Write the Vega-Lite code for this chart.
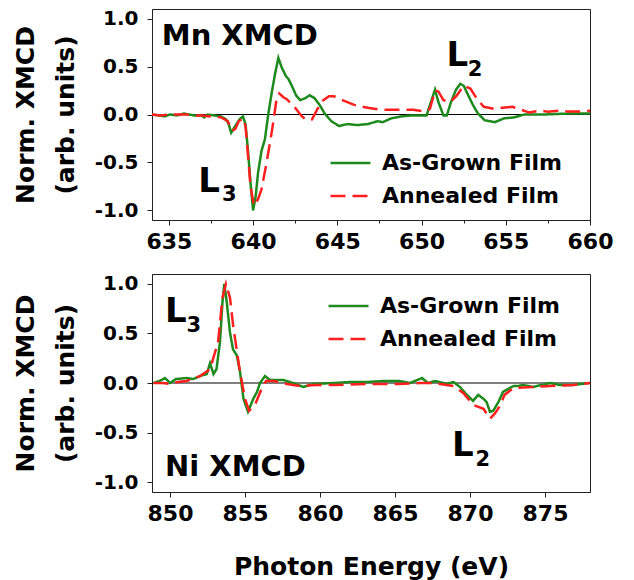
{
  "$schema": "https://vega.github.io/schema/vega-lite/v6.json",
  "background": "white",
  "padding": {"left": 12, "top": 8, "right": 5, "bottom": 0},
  "spacing": 54,
  "bounds": "flush",
  "config": {
    "font": "DejaVu Sans",
    "view": {"stroke": "#222", "strokeWidth": 1},
    "axis": {
      "grid": false,
      "domainColor": "#222",
      "tickColor": "#222",
      "labelFont": "DejaVu Sans",
      "labelFontWeight": "bold",
      "labelFontSize": 20,
      "labelColor": "black",
      "titleFont": "DejaVu Sans",
      "titleFontWeight": "bold",
      "titleFontSize": 25,
      "titleColor": "black",
      "tickSize": 5,
      "labelOverlap": false,
      "labelBound": false,
      "labelFlush": false
    },
    "legend": {
      "labelFont": "DejaVu Sans",
      "labelFontWeight": "bold",
      "labelFontSize": 22,
      "labelColor": "black",
      "labelLimit": 400
    }
  },
  "resolve": {
    "scale": {"color": "independent", "strokeDash": "independent", "x": "independent", "y": "independent"},
    "legend": {"color": "independent", "strokeDash": "independent"}
  },
  "vconcat": [
    {
      "width": 438,
      "height": 211,
      "layer": [
        {
          "data": {"values": [{"v": 0}]},
          "mark": {"type": "rule", "color": "black", "strokeWidth": 1.2},
          "encoding": {"y": {"field": "v", "type": "quantitative", "scale": {"domain": [-1.1, 1.1], "nice": false, "zero": false}}}
        },
        {
          "data": {"values": [
            {"series": "As-Grown Film", "E": 634.0, "v": 0},
            {"series": "As-Grown Film", "E": 634.4, "v": -0.01},
            {"series": "As-Grown Film", "E": 634.75, "v": -0.02},
            {"series": "As-Grown Film", "E": 635.05, "v": 0.0},
            {"series": "As-Grown Film", "E": 635.5, "v": -0.01},
            {"series": "As-Grown Film", "E": 635.9, "v": 0.01},
            {"series": "As-Grown Film", "E": 636.2, "v": 0.0},
            {"series": "As-Grown Film", "E": 636.5, "v": -0.01},
            {"series": "As-Grown Film", "E": 636.9, "v": -0.01},
            {"series": "As-Grown Film", "E": 637.1, "v": -0.03},
            {"series": "As-Grown Film", "E": 637.3, "v": 0.0},
            {"series": "As-Grown Film", "E": 637.7, "v": -0.01},
            {"series": "As-Grown Film", "E": 638.1, "v": -0.02},
            {"series": "As-Grown Film", "E": 638.4, "v": -0.05},
            {"series": "As-Grown Film", "E": 638.55, "v": -0.1},
            {"series": "As-Grown Film", "E": 638.7, "v": -0.19},
            {"series": "As-Grown Film", "E": 638.9, "v": -0.13},
            {"series": "As-Grown Film", "E": 639.2, "v": -0.05},
            {"series": "As-Grown Film", "E": 639.4, "v": -0.02},
            {"series": "As-Grown Film", "E": 639.55, "v": -0.1},
            {"series": "As-Grown Film", "E": 639.7, "v": -0.38},
            {"series": "As-Grown Film", "E": 639.85, "v": -0.72},
            {"series": "As-Grown Film", "E": 640.0, "v": -1.0},
            {"series": "As-Grown Film", "E": 640.15, "v": -0.86},
            {"series": "As-Grown Film", "E": 640.3, "v": -0.6},
            {"series": "As-Grown Film", "E": 640.5, "v": -0.38},
            {"series": "As-Grown Film", "E": 640.7, "v": -0.26},
            {"series": "As-Grown Film", "E": 640.9, "v": 0.0},
            {"series": "As-Grown Film", "E": 641.1, "v": 0.22},
            {"series": "As-Grown Film", "E": 641.3, "v": 0.42},
            {"series": "As-Grown Film", "E": 641.5, "v": 0.59},
            {"series": "As-Grown Film", "E": 641.7, "v": 0.49},
            {"series": "As-Grown Film", "E": 641.95, "v": 0.4},
            {"series": "As-Grown Film", "E": 642.1, "v": 0.37},
            {"series": "As-Grown Film", "E": 642.3, "v": 0.3},
            {"series": "As-Grown Film", "E": 642.55, "v": 0.2},
            {"series": "As-Grown Film", "E": 642.8, "v": 0.15},
            {"series": "As-Grown Film", "E": 643.1, "v": 0.17},
            {"series": "As-Grown Film", "E": 643.35, "v": 0.2},
            {"series": "As-Grown Film", "E": 643.65, "v": 0.17},
            {"series": "As-Grown Film", "E": 643.95, "v": 0.1},
            {"series": "As-Grown Film", "E": 644.25, "v": 0.01},
            {"series": "As-Grown Film", "E": 644.65, "v": -0.07},
            {"series": "As-Grown Film", "E": 645.1, "v": -0.12},
            {"series": "As-Grown Film", "E": 645.6, "v": -0.1},
            {"series": "As-Grown Film", "E": 646.2, "v": -0.11},
            {"series": "As-Grown Film", "E": 646.8, "v": -0.1},
            {"series": "As-Grown Film", "E": 647.4, "v": -0.07},
            {"series": "As-Grown Film", "E": 647.7, "v": -0.08},
            {"series": "As-Grown Film", "E": 648.2, "v": -0.04},
            {"series": "As-Grown Film", "E": 648.8, "v": -0.02},
            {"series": "As-Grown Film", "E": 649.4, "v": -0.01},
            {"series": "As-Grown Film", "E": 650.0, "v": -0.01},
            {"series": "As-Grown Film", "E": 650.3, "v": -0.01},
            {"series": "As-Grown Film", "E": 650.5, "v": 0.1},
            {"series": "As-Grown Film", "E": 650.8, "v": 0.26},
            {"series": "As-Grown Film", "E": 651.0, "v": 0.13},
            {"series": "As-Grown Film", "E": 651.3, "v": -0.01},
            {"series": "As-Grown Film", "E": 651.5, "v": -0.01},
            {"series": "As-Grown Film", "E": 651.75, "v": 0.13},
            {"series": "As-Grown Film", "E": 652.05, "v": 0.26},
            {"series": "As-Grown Film", "E": 652.3, "v": 0.32},
            {"series": "As-Grown Film", "E": 652.5, "v": 0.3},
            {"series": "As-Grown Film", "E": 652.8, "v": 0.19},
            {"series": "As-Grown Film", "E": 653.05, "v": 0.1},
            {"series": "As-Grown Film", "E": 653.35, "v": 0.01},
            {"series": "As-Grown Film", "E": 653.75, "v": -0.06},
            {"series": "As-Grown Film", "E": 654.35, "v": -0.08},
            {"series": "As-Grown Film", "E": 654.9, "v": -0.04},
            {"series": "As-Grown Film", "E": 655.5, "v": -0.03},
            {"series": "As-Grown Film", "E": 656.1, "v": 0.0},
            {"series": "As-Grown Film", "E": 657.3, "v": 0.0},
            {"series": "As-Grown Film", "E": 658.7, "v": 0.01},
            {"series": "As-Grown Film", "E": 660.0, "v": 0.01},
            {"series": "Annealed Film", "E": 634.0, "v": 0},
            {"series": "Annealed Film", "E": 634.5, "v": -0.01},
            {"series": "Annealed Film", "E": 635.0, "v": 0.0},
            {"series": "Annealed Film", "E": 635.5, "v": 0.0},
            {"series": "Annealed Film", "E": 636.0, "v": 0.0},
            {"series": "Annealed Film", "E": 636.5, "v": -0.01},
            {"series": "Annealed Film", "E": 637.0, "v": -0.01},
            {"series": "Annealed Film", "E": 637.5, "v": -0.02},
            {"series": "Annealed Film", "E": 638.1, "v": -0.03},
            {"series": "Annealed Film", "E": 638.5, "v": -0.07},
            {"series": "Annealed Film", "E": 638.75, "v": -0.17},
            {"series": "Annealed Film", "E": 638.95, "v": -0.15},
            {"series": "Annealed Film", "E": 639.15, "v": -0.07},
            {"series": "Annealed Film", "E": 639.4, "v": -0.04},
            {"series": "Annealed Film", "E": 639.55, "v": -0.12},
            {"series": "Annealed Film", "E": 639.7, "v": -0.43},
            {"series": "Annealed Film", "E": 639.85, "v": -0.75},
            {"series": "Annealed Film", "E": 640.05, "v": -0.95},
            {"series": "Annealed Film", "E": 640.3, "v": -0.88},
            {"series": "Annealed Film", "E": 640.5, "v": -0.78},
            {"series": "Annealed Film", "E": 640.75, "v": -0.55},
            {"series": "Annealed Film", "E": 641.0, "v": -0.3},
            {"series": "Annealed Film", "E": 641.2, "v": -0.08},
            {"series": "Annealed Film", "E": 641.4, "v": 0.17},
            {"series": "Annealed Film", "E": 641.55, "v": 0.22},
            {"series": "Annealed Film", "E": 641.8, "v": 0.18},
            {"series": "Annealed Film", "E": 642.0, "v": 0.16},
            {"series": "Annealed Film", "E": 642.45, "v": 0.08},
            {"series": "Annealed Film", "E": 642.9, "v": -0.02},
            {"series": "Annealed Film", "E": 643.2, "v": -0.06},
            {"series": "Annealed Film", "E": 643.5, "v": -0.05},
            {"series": "Annealed Film", "E": 643.8, "v": 0.05},
            {"series": "Annealed Film", "E": 644.1, "v": 0.14},
            {"series": "Annealed Film", "E": 644.5, "v": 0.19},
            {"series": "Annealed Film", "E": 644.8, "v": 0.19},
            {"series": "Annealed Film", "E": 645.3, "v": 0.15},
            {"series": "Annealed Film", "E": 646.0, "v": 0.1},
            {"series": "Annealed Film", "E": 646.8, "v": 0.07},
            {"series": "Annealed Film", "E": 647.6, "v": 0.05},
            {"series": "Annealed Film", "E": 648.5, "v": 0.05},
            {"series": "Annealed Film", "E": 649.5, "v": 0.05},
            {"series": "Annealed Film", "E": 650.2, "v": 0.03},
            {"series": "Annealed Film", "E": 650.5, "v": 0.06},
            {"series": "Annealed Film", "E": 650.8, "v": 0.25},
            {"series": "Annealed Film", "E": 651.0, "v": 0.24},
            {"series": "Annealed Film", "E": 651.3, "v": 0.15},
            {"series": "Annealed Film", "E": 651.7, "v": 0.13},
            {"series": "Annealed Film", "E": 652.1, "v": 0.2},
            {"series": "Annealed Film", "E": 652.5, "v": 0.3},
            {"series": "Annealed Film", "E": 652.9, "v": 0.27},
            {"series": "Annealed Film", "E": 653.3, "v": 0.16},
            {"series": "Annealed Film", "E": 653.7, "v": 0.08},
            {"series": "Annealed Film", "E": 654.3, "v": 0.06},
            {"series": "Annealed Film", "E": 654.8, "v": 0.07},
            {"series": "Annealed Film", "E": 655.4, "v": 0.08},
            {"series": "Annealed Film", "E": 655.9, "v": 0.05},
            {"series": "Annealed Film", "E": 656.4, "v": 0.02},
            {"series": "Annealed Film", "E": 657.0, "v": 0.04},
            {"series": "Annealed Film", "E": 657.5, "v": 0.03},
            {"series": "Annealed Film", "E": 658.2, "v": 0.04},
            {"series": "Annealed Film", "E": 658.7, "v": 0.03},
            {"series": "Annealed Film", "E": 659.5, "v": 0.03},
            {"series": "Annealed Film", "E": 660.0, "v": 0.04}
          ]},
          "mark": {"type": "line", "strokeWidth": 2.5},
          "encoding": {
            "x": {"field": "E", "type": "quantitative", "scale": {"domain": [634, 660], "nice": false, "zero": false},
              "axis": {"title": null, "values": [635, 637.5, 640, 642.5, 645, 647.5, 650, 652.5, 655, 657.5, 660],
                "labelExpr": "datum.value % 5 === 0 ? format(datum.value, 'd') : ''",
                "tickSize": {"condition": {"test": "datum.value % 5 !== 0", "value": 3}, "value": 5},
                "labelFontSize": 22, "labelPadding": 6}},
            "y": {"field": "v", "type": "quantitative", "scale": {"domain": [-1.1, 1.1], "nice": false, "zero": false},
              "axis": {"title": ["Norm. XMCD", "(arb. units)"], "titleLineHeight": 40, "titlePadding": 16,
                "values": [-1, -0.75, -0.5, -0.25, 0, 0.25, 0.5, 0.75, 1],
                "labelExpr": "datum.value % 0.5 === 0 ? replace(format(datum.value, '.1f'), '\u2212', '-') : ''",
                "tickSize": {"condition": {"test": "datum.value % 0.5 !== 0", "value": 3}, "value": 5},
                "labelPadding": 9}},
            "color": {"field": "series", "type": "nominal", "sort": null,
              "scale": {"domain": ["As-Grown Film", "Annealed Film"], "range": ["#1e8a1e", "#ff1f1f"]},
              "legend": {"orient": "none", "legendX": 177, "legendY": 143, "title": null, "symbolType": "stroke", "symbolSize": 1600, "symbolStrokeWidth": 2.5, "clipHeight": 22, "rowPadding": 11, "labelOffset": 10}},
            "strokeDash": {"field": "series", "type": "nominal", "sort": null,
              "scale": {"domain": ["As-Grown Film", "Annealed Film"], "range": [[1, 0], [15, 7]]},
              "legend": {"orient": "none", "legendX": 177, "legendY": 143, "title": null, "symbolType": "stroke", "symbolSize": 1600, "symbolStrokeWidth": 2.5, "clipHeight": 22, "rowPadding": 11, "labelOffset": 10}}
          }
        },
        {
          "data": {"values": [{"t": "Mn XMCD", "E": 634.58, "v": 0.725}]},
          "mark": {"type": "text", "align": "left", "baseline": "alphabetic", "fontSize": 29, "fontWeight": "bold", "font": "DejaVu Sans", "color": "black"},
          "encoding": {"x": {"field": "E", "type": "quantitative"}, "y": {"field": "v", "type": "quantitative"}, "text": {"field": "t"}}
        },
        {
          "data": {"values": [{"t": "L", "E": 636.75, "v": -0.804}, {"t": "L", "E": 651.48, "v": 0.505}]},
          "mark": {"type": "text", "align": "left", "baseline": "alphabetic", "fontSize": 34, "fontWeight": "bold", "font": "DejaVu Sans", "color": "black"},
          "encoding": {"x": {"field": "E", "type": "quantitative"}, "y": {"field": "v", "type": "quantitative"}, "text": {"field": "t"}}
        },
        {
          "data": {"values": [{"t": "3", "E": 638.15, "v": -0.898}, {"t": "2", "E": 652.75, "v": 0.4}]},
          "mark": {"type": "text", "align": "left", "baseline": "alphabetic", "fontSize": 21, "fontWeight": "bold", "font": "DejaVu Sans", "color": "black"},
          "encoding": {"x": {"field": "E", "type": "quantitative"}, "y": {"field": "v", "type": "quantitative"}, "text": {"field": "t"}}
        }
      ]
    },
    {
      "width": 438,
      "height": 218,
      "layer": [
        {
          "data": {"values": [{"v": 0}]},
          "mark": {"type": "rule", "color": "black", "strokeWidth": 1.2},
          "encoding": {"y": {"field": "v", "type": "quantitative", "scale": {"domain": [-1.1, 1.1], "nice": false, "zero": false}}}
        },
        {
          "data": {"values": [
            {"series": "As-Grown Film", "E": 848.9, "v": 0.0},
            {"series": "As-Grown Film", "E": 849.3, "v": 0.02},
            {"series": "As-Grown Film", "E": 849.67, "v": 0.05},
            {"series": "As-Grown Film", "E": 850.0, "v": 0.0},
            {"series": "As-Grown Film", "E": 850.4, "v": 0.04},
            {"series": "As-Grown Film", "E": 851.1, "v": 0.05},
            {"series": "As-Grown Film", "E": 851.55, "v": 0.04},
            {"series": "As-Grown Film", "E": 852.0, "v": 0.07},
            {"series": "As-Grown Film", "E": 852.45, "v": 0.09},
            {"series": "As-Grown Film", "E": 852.67, "v": 0.2},
            {"series": "As-Grown Film", "E": 852.9, "v": 0.09},
            {"series": "As-Grown Film", "E": 853.1, "v": 0.14},
            {"series": "As-Grown Film", "E": 853.33, "v": 0.41},
            {"series": "As-Grown Film", "E": 853.5, "v": 0.82},
            {"series": "As-Grown Film", "E": 853.62, "v": 1.0},
            {"series": "As-Grown Film", "E": 853.78, "v": 0.82},
            {"series": "As-Grown Film", "E": 854.0, "v": 0.51},
            {"series": "As-Grown Film", "E": 854.2, "v": 0.34},
            {"series": "As-Grown Film", "E": 854.45, "v": 0.28},
            {"series": "As-Grown Film", "E": 854.67, "v": 0.11},
            {"series": "As-Grown Film", "E": 854.9, "v": -0.16},
            {"series": "As-Grown Film", "E": 855.2, "v": -0.29},
            {"series": "As-Grown Film", "E": 855.55, "v": -0.16},
            {"series": "As-Grown Film", "E": 855.8, "v": -0.09},
            {"series": "As-Grown Film", "E": 856.0, "v": 0.0},
            {"series": "As-Grown Film", "E": 856.33, "v": 0.07},
            {"series": "As-Grown Film", "E": 856.67, "v": 0.03},
            {"series": "As-Grown Film", "E": 857.1, "v": 0.03},
            {"series": "As-Grown Film", "E": 857.55, "v": 0.03},
            {"series": "As-Grown Film", "E": 858.2, "v": 0.0},
            {"series": "As-Grown Film", "E": 858.9, "v": -0.04},
            {"series": "As-Grown Film", "E": 859.55, "v": -0.01},
            {"series": "As-Grown Film", "E": 860.9, "v": 0.0},
            {"series": "As-Grown Film", "E": 862.0, "v": 0.01},
            {"series": "As-Grown Film", "E": 863.1, "v": 0.01},
            {"series": "As-Grown Film", "E": 864.2, "v": 0.02},
            {"series": "As-Grown Film", "E": 865.3, "v": 0.02},
            {"series": "As-Grown Film", "E": 866.0, "v": 0.0},
            {"series": "As-Grown Film", "E": 866.8, "v": 0.05},
            {"series": "As-Grown Film", "E": 867.2, "v": 0.0},
            {"series": "As-Grown Film", "E": 867.7, "v": 0.02},
            {"series": "As-Grown Film", "E": 868.45, "v": -0.01},
            {"series": "As-Grown Film", "E": 868.9, "v": 0.01},
            {"series": "As-Grown Film", "E": 869.33, "v": -0.04},
            {"series": "As-Grown Film", "E": 869.8, "v": -0.12},
            {"series": "As-Grown Film", "E": 870.2, "v": -0.18},
            {"series": "As-Grown Film", "E": 870.55, "v": -0.12},
            {"series": "As-Grown Film", "E": 870.9, "v": -0.16},
            {"series": "As-Grown Film", "E": 871.1, "v": -0.19},
            {"series": "As-Grown Film", "E": 871.33, "v": -0.29},
            {"series": "As-Grown Film", "E": 871.55, "v": -0.28},
            {"series": "As-Grown Film", "E": 871.9, "v": -0.19},
            {"series": "As-Grown Film", "E": 872.2, "v": -0.09},
            {"series": "As-Grown Film", "E": 872.55, "v": -0.06},
            {"series": "As-Grown Film", "E": 872.9, "v": -0.03},
            {"series": "As-Grown Film", "E": 873.2, "v": -0.03},
            {"series": "As-Grown Film", "E": 873.55, "v": -0.02},
            {"series": "As-Grown Film", "E": 874.2, "v": -0.04},
            {"series": "As-Grown Film", "E": 875.33, "v": 0.0},
            {"series": "As-Grown Film", "E": 876.0, "v": -0.02},
            {"series": "As-Grown Film", "E": 876.9, "v": -0.02},
            {"series": "As-Grown Film", "E": 877.95, "v": 0.0},
            {"series": "Annealed Film", "E": 848.9, "v": 0.0},
            {"series": "Annealed Film", "E": 849.5, "v": 0.0},
            {"series": "Annealed Film", "E": 850.0, "v": -0.01},
            {"series": "Annealed Film", "E": 850.5, "v": 0.01},
            {"series": "Annealed Film", "E": 851.1, "v": 0.02},
            {"series": "Annealed Film", "E": 852.0, "v": 0.07},
            {"series": "Annealed Film", "E": 852.67, "v": 0.14},
            {"series": "Annealed Film", "E": 853.2, "v": 0.41},
            {"series": "Annealed Film", "E": 853.5, "v": 0.86},
            {"series": "Annealed Film", "E": 853.73, "v": 1.0},
            {"series": "Annealed Film", "E": 854.0, "v": 0.86},
            {"series": "Annealed Film", "E": 854.2, "v": 0.59},
            {"series": "Annealed Film", "E": 854.45, "v": 0.33},
            {"series": "Annealed Film", "E": 854.67, "v": 0.11},
            {"series": "Annealed Film", "E": 855.0, "v": -0.16},
            {"series": "Annealed Film", "E": 855.27, "v": -0.28},
            {"series": "Annealed Film", "E": 855.67, "v": -0.22},
            {"series": "Annealed Film", "E": 856.1, "v": -0.06},
            {"series": "Annealed Film", "E": 856.4, "v": 0.02},
            {"series": "Annealed Film", "E": 856.9, "v": 0.02},
            {"series": "Annealed Film", "E": 857.8, "v": -0.01},
            {"series": "Annealed Film", "E": 858.67, "v": -0.03},
            {"series": "Annealed Film", "E": 859.8, "v": -0.02},
            {"series": "Annealed Film", "E": 860.9, "v": -0.02},
            {"series": "Annealed Film", "E": 863.1, "v": -0.01},
            {"series": "Annealed Film", "E": 865.3, "v": -0.01},
            {"series": "Annealed Film", "E": 866.67, "v": 0.0},
            {"series": "Annealed Film", "E": 867.5, "v": 0.0},
            {"series": "Annealed Film", "E": 868.9, "v": -0.03},
            {"series": "Annealed Film", "E": 869.55, "v": -0.1},
            {"series": "Annealed Film", "E": 870.2, "v": -0.22},
            {"series": "Annealed Film", "E": 870.9, "v": -0.26},
            {"series": "Annealed Film", "E": 871.33, "v": -0.36},
            {"series": "Annealed Film", "E": 871.65, "v": -0.31},
            {"series": "Annealed Film", "E": 872.0, "v": -0.23},
            {"series": "Annealed Film", "E": 872.3, "v": -0.12},
            {"series": "Annealed Film", "E": 872.9, "v": -0.05},
            {"series": "Annealed Film", "E": 874.2, "v": -0.04},
            {"series": "Annealed Film", "E": 875.33, "v": -0.03},
            {"series": "Annealed Film", "E": 876.9, "v": -0.02},
            {"series": "Annealed Film", "E": 878.0, "v": 0.0}
          ]},
          "mark": {"type": "line", "strokeWidth": 2.5},
          "encoding": {
            "x": {"field": "E", "type": "quantitative", "scale": {"domain": [848.8, 878], "nice": false, "zero": false},
              "axis": {"title": "Photon Energy (eV)", "titlePadding": 30, "values": [850, 852.5, 855, 857.5, 860, 862.5, 865, 867.5, 870, 872.5, 875, 877.5],
                "labelExpr": "datum.value % 5 === 0 ? format(datum.value, 'd') : ''",
                "tickSize": {"condition": {"test": "datum.value % 5 !== 0", "value": 3}, "value": 5},
                "labelFontSize": 22, "labelPadding": 6}},
            "y": {"field": "v", "type": "quantitative", "scale": {"domain": [-1.1, 1.1], "nice": false, "zero": false},
              "axis": {"title": ["Norm. XMCD", "(arb. units)"], "titleLineHeight": 40, "titlePadding": 16,
                "values": [-1, -0.75, -0.5, -0.25, 0, 0.25, 0.5, 0.75, 1],
                "labelExpr": "datum.value % 0.5 === 0 ? replace(format(datum.value, '.1f'), '\u2212', '-') : ''",
                "tickSize": {"condition": {"test": "datum.value % 0.5 !== 0", "value": 3}, "value": 5},
                "labelPadding": 9}},
            "color": {"field": "series", "type": "nominal", "sort": null,
              "scale": {"domain": ["As-Grown Film", "Annealed Film"], "range": ["#1e8a1e", "#ff1f1f"]},
              "legend": {"orient": "none", "legendX": 175, "legendY": 21, "title": null, "symbolType": "stroke", "symbolSize": 1600, "symbolStrokeWidth": 2.5, "clipHeight": 22, "rowPadding": 11, "labelOffset": 10}},
            "strokeDash": {"field": "series", "type": "nominal", "sort": null,
              "scale": {"domain": ["As-Grown Film", "Annealed Film"], "range": [[1, 0], [15, 7]]},
              "legend": {"orient": "none", "legendX": 175, "legendY": 21, "title": null, "symbolType": "stroke", "symbolSize": 1600, "symbolStrokeWidth": 2.5, "clipHeight": 22, "rowPadding": 11, "labelOffset": 10}}
          }
        },
        {
          "data": {"values": [{"t": "Ni XMCD", "E": 849.67, "v": -0.94}]},
          "mark": {"type": "text", "align": "left", "baseline": "alphabetic", "fontSize": 29, "fontWeight": "bold", "font": "DejaVu Sans", "color": "black"},
          "encoding": {"x": {"field": "E", "type": "quantitative"}, "y": {"field": "v", "type": "quantitative"}, "text": {"field": "t"}}
        },
        {
          "data": {"values": [{"t": "L", "E": 849.67, "v": 0.617}, {"t": "L", "E": 868.8, "v": -0.739}]},
          "mark": {"type": "text", "align": "left", "baseline": "alphabetic", "fontSize": 34, "fontWeight": "bold", "font": "DejaVu Sans", "color": "black"},
          "encoding": {"x": {"field": "E", "type": "quantitative"}, "y": {"field": "v", "type": "quantitative"}, "text": {"field": "t"}}
        },
        {
          "data": {"values": [{"t": "3", "E": 851.1, "v": 0.516}, {"t": "2", "E": 870.37, "v": -0.84}]},
          "mark": {"type": "text", "align": "left", "baseline": "alphabetic", "fontSize": 21, "fontWeight": "bold", "font": "DejaVu Sans", "color": "black"},
          "encoding": {"x": {"field": "E", "type": "quantitative"}, "y": {"field": "v", "type": "quantitative"}, "text": {"field": "t"}}
        }
      ]
    }
  ]
}
